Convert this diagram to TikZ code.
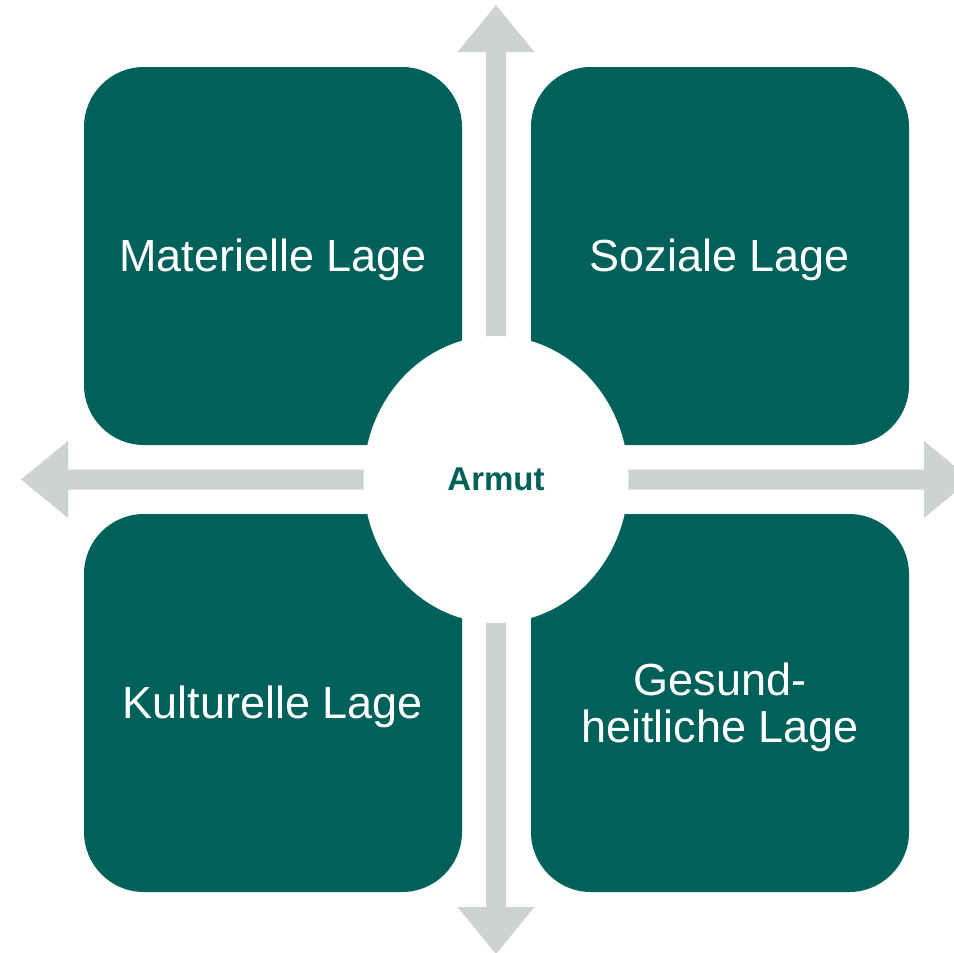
\documentclass[tikz,border=0pt]{standalone}
\usepackage{fontspec}
\setmainfont{Liberation Sans}
\usetikzlibrary{shapes.geometric}
\definecolor{boxteal}{HTML}{00605A}
\definecolor{arrowgrey}{HTML}{CDD3D2}
\begin{document}
\begin{tikzpicture}[x=1pt,y=-1pt,
  box/.style={fill=boxteal, rounded corners=60pt, minimum width=378pt, minimum height=378pt,
    inner sep=0pt, text=white, font=\fontsize{45}{47}\selectfont, align=center, text height=41pt},
  hub/.style={ellipse, fill=white, minimum width=265pt, minimum height=287pt, inner sep=0pt,
    text=boxteal, font=\bfseries\fontsize{33}{36}\selectfont},
  axis/.style={fill=arrowgrey}]
\useasboundingbox (0,0) rectangle (953,953);
\coordinate (c) at (496,479.5);
% axes
\fill[axis] (486,479.5) -- (486,52) -- (457.5,52) -- (496,5) -- (534.5,52) -- (506,52) -- (506,479.5) -- cycle;
\fill[axis] (486,479.5) -- (486,907) -- (457.5,907) -- (496,954) -- (534.5,907) -- (506,907) -- (506,479.5) -- cycle;
\fill[axis] (496,469.5) -- (68,469.5) -- (68,441) -- (21,479.5) -- (68,518) -- (68,489.5) -- (496,489.5) -- cycle;
\fill[axis] (496,469.5) -- (924,469.5) -- (924,441) -- (971,479.5) -- (924,518) -- (924,489.5) -- (496,489.5) -- cycle;
% boxes
\node[box] (mat) at (273,256) {Materielle Lage};
\node[box] (soz) at (720,256) {Soziale Lage};
\node[box] (kul) at (273,703) {Kulturelle Lage};
\node[box, text height=87.5pt, text depth=9.5pt] (ges) at (720,703) {Gesund-\\heitliche Lage};
% hub
\node[hub] (armut) at (c) {Armut};
\end{tikzpicture}
\end{document}
